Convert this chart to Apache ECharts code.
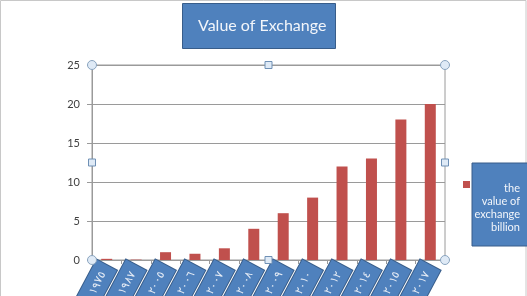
<!DOCTYPE html>
<html><head><meta charset="utf-8">
<script src="https://cdn.jsdelivr.net/npm/echarts@6/dist/echarts.min.js"></script>
<style>html,body{margin:0;padding:0;background:#fff}#c{width:527px;height:296px}</style>
</head><body><div id="c"></div>
<script>
var categories = ['١٩٧٥','١٩٨٧','٢٠٠٥','٢٠٠٦','٢٠٠٧','٢٠٠٨','٢٠٠٩','٢٠١٠','٢٠١٢','٢٠١٤','٢٠١٥','٢٠١٧'];
var values = [0.15, 0.05, 1.0, 0.8, 1.5, 4, 6, 8, 12, 13, 18, 20];
var yTicks = [0, 5, 10, 15, 20, 25];
var seriesName = 'the value of exchange billion';
var titleText = 'Value of Exchange';

var chart = echarts.init(document.getElementById('c'), null, {renderer:'canvas'});
var FONT = 'Lato';
chart.setOption({
  animation:false,
  backgroundColor:'#fff',
  title:{
    text:titleText, left:182, top:3,
    backgroundColor:'#4f81bd', borderColor:'#385d8a', borderWidth:1,
    padding:[15,9,15,16],
    textStyle:{color:'#f2f5fa', fontFamily:FONT, fontSize:16, fontWeight:'normal'}
  },
  legend:{
    left:458, top:176, orient:'vertical',
    itemWidth:7, itemHeight:7, itemGap:0,
    icon:'rect',
    data:[{name:seriesName, icon:'rect'}],
    formatter:function(){return '{a|the}\n{a|value of}\n{a|exchange}\n{a|billion}';},
    textStyle:{color:'#f2f5fa', fontFamily:FONT, fontSize:11, padding:[46,0,0,0],
      rich:{a:{color:'#f2f5fa', fontFamily:FONT, fontSize:11, lineHeight:13, align:'right', width:45}}}
  },
  grid:{left:92, right:82, top:65, bottom:36, containLabel:false, outerBoundsMode:'none', show:true, borderColor:'#9a9a9a', borderWidth:1},
  xAxis:{
    type:'category', data:categories,
    axisLine:{lineStyle:{color:'#9a9a9a'}},
    axisTick:{show:true, length:4, lineStyle:{color:'#9a9a9a'}},
    axisLabel:{rotate:62, margin:5, interval:0, color:'#e6ecf5', fontFamily:FONT, fontSize:11,
      backgroundColor:'#4f81bd', borderColor:'#385d8a', borderWidth:1, padding:[6,8,6,14]}
  },
  yAxis:{
    type:'value', min:yTicks[0], max:yTicks[yTicks.length-1], interval:5,
    axisLine:{show:true, lineStyle:{color:'#9a9a9a'}},
    axisTick:{show:true, length:5, lineStyle:{color:'#9a9a9a'}},
    axisLabel:{margin:12, color:'#404040', fontFamily:FONT, fontSize:11},
    splitLine:{lineStyle:{color:'#9a9a9a'}}
  },
  series:[{name:seriesName, type:'bar', data:values, barWidth:11, itemStyle:{color:'#c0504d'}}]
});

function handles(){
  var g = chart.getModel().getComponent('grid',0).coordinateSystem.getRect();
  var x0=g.x, x1=g.x+g.width, y0=g.y, y1=g.y+g.height, xm=(x0+x1)/2, ym=(y0+y1)/2;
  var els=[{type:'rect', shape:{x:0.5,y:0.5,width:525.5,height:300}, style:{fill:null, stroke:'#c8c8c8', lineWidth:1}, z:-10, silent:true},
           {type:'rect', shape:{x:472,y:163,width:60,height:83}, style:{fill:'#4f81bd', stroke:'#385d8a', lineWidth:1}, z:0}];
  [[x0,y0],[x1,y0],[x0,y1],[x1,y1]].forEach(function(p){
    els.push({type:'circle', shape:{cx:p[0],cy:p[1],r:4.5}, style:{fill:'#dfeaf6', stroke:'#8aa4bf', lineWidth:1}, z:100});
  });
  [[xm,y0],[xm,y1],[x0,ym],[x1,ym]].forEach(function(p){
    els.push({type:'rect', shape:{x:p[0]-3.5,y:p[1]-3.5,width:7,height:7}, style:{fill:'#dfeaf6', stroke:'#6f90b5', lineWidth:1}, z:100});
  });
  chart.setOption({graphic:els});
}
handles();
</script></body></html>
